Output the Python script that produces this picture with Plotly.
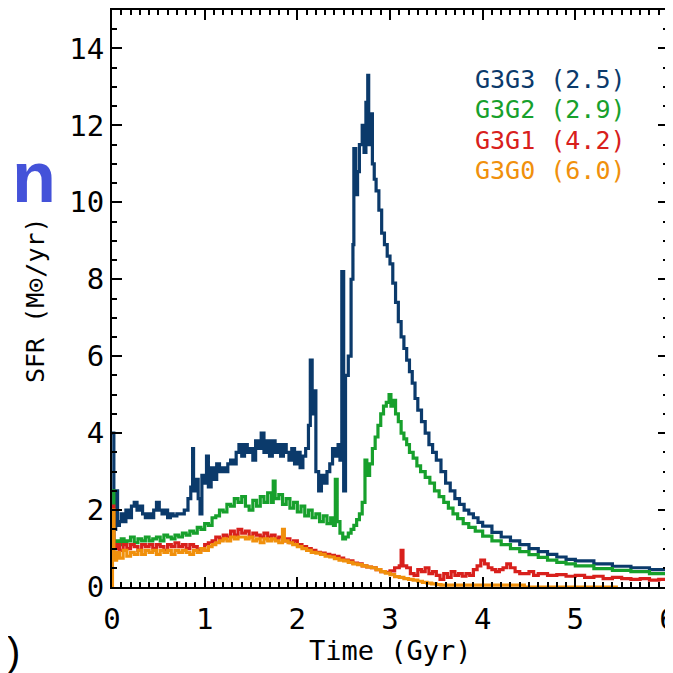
import plotly.graph_objects as go

# ---------------- data ----------------
t_g3g3 = [0.00, 0.02, 0.04, 0.06, 0.08, 0.10, 0.12, 0.15, 0.18, 0.21, 0.24, 0.27, 0.30, 0.33, 0.36, 0.39,
          0.42, 0.45, 0.48, 0.51, 0.54, 0.57, 0.60, 0.63, 0.66, 0.70, 0.74, 0.78, 0.82, 0.85, 0.87, 0.88,
          0.91, 0.93, 0.95, 0.97, 1.00, 1.02, 1.04, 1.07, 1.10, 1.13, 1.16, 1.19, 1.22, 1.25, 1.28, 1.31,
          1.34, 1.37, 1.40, 1.43, 1.46, 1.49, 1.52, 1.55, 1.58, 1.61, 1.64, 1.67, 1.70, 1.73, 1.76, 1.79,
          1.82, 1.85, 1.88, 1.91, 1.94, 1.97, 2.00, 2.03, 2.06, 2.09, 2.12, 2.14, 2.16, 2.18, 2.20, 2.23,
          2.26, 2.29, 2.32, 2.35, 2.38, 2.41, 2.44, 2.46, 2.48, 2.50, 2.52, 2.55, 2.58, 2.60, 2.61, 2.63,
          2.65, 2.67, 2.70, 2.72, 2.74, 2.76, 2.77, 2.79, 2.81, 2.83, 2.85, 2.88, 2.91, 2.94, 2.97, 3.00,
          3.03, 3.06, 3.09, 3.12, 3.15, 3.18, 3.21, 3.24, 3.27, 3.30, 3.34, 3.38, 3.42, 3.46, 3.50, 3.55,
          3.60, 3.65, 3.70, 3.75, 3.80, 3.85, 3.90, 3.95, 4.00, 4.10, 4.20, 4.30, 4.40, 4.50, 4.60, 4.70,
          4.80, 4.90, 5.00, 5.20, 5.40, 5.60, 5.80, 6.00]
sfr_g3g3 = [4.0, 1.5, 2.5, 1.6, 1.7, 1.9, 1.7, 2.0, 1.8, 2.1, 2.2, 2.0, 2.1, 1.9, 1.8, 1.9,
            1.8, 2.0, 2.2, 2.0, 1.9, 2.0, 1.8, 1.9, 1.85, 1.9, 1.9, 2.0, 2.3, 2.6, 3.6, 2.5,
            2.8, 2.3, 1.9, 2.9, 2.7, 3.4, 2.6, 3.1, 2.8, 3.2, 3.0, 3.1, 3.0, 3.2, 3.3, 3.2,
            3.5, 3.7, 3.4, 3.7, 3.5, 3.6, 3.3, 3.8, 3.6, 4.0, 3.5, 3.8, 3.4, 3.8, 3.5, 3.7,
            3.4, 3.7, 3.5, 3.3, 3.6, 3.2, 3.5, 3.1, 3.4, 3.6, 4.2, 5.9, 4.5, 5.1, 3.0, 2.5,
            2.9, 2.7, 3.0, 3.2, 3.6, 3.4, 3.7, 3.3, 8.2, 2.5, 5.5, 6.0, 8.0, 8.9, 11.4, 10.2,
            10.8, 11.5, 12.0, 11.3, 12.6, 13.3, 11.5, 12.3, 11.0, 10.6, 10.3, 9.8, 9.2, 8.9, 8.6, 8.4,
            7.9, 7.4, 6.9, 6.5, 6.2, 5.9, 5.6, 5.3, 4.9, 4.6, 4.3, 4.0, 3.7, 3.5, 3.3, 3.0,
            2.7, 2.5, 2.3, 2.15, 2.0, 1.9, 1.8, 1.68, 1.58, 1.42, 1.3, 1.2, 1.1, 1.0, 0.92, 0.85,
            0.78, 0.72, 0.68, 0.6, 0.54, 0.5, 0.45, 0.42]

t_g3g2 = [0.00, 0.02, 0.04, 0.07, 0.10, 0.13, 0.16, 0.20, 0.24, 0.28, 0.32, 0.36, 0.40, 0.44, 0.48, 0.52,
          0.56, 0.60, 0.64, 0.68, 0.72, 0.76, 0.80, 0.84, 0.88, 0.92, 0.96, 1.00, 1.04, 1.08, 1.12, 1.16,
          1.20, 1.24, 1.28, 1.32, 1.36, 1.40, 1.44, 1.48, 1.52, 1.56, 1.60, 1.64, 1.68, 1.72, 1.74, 1.76,
          1.80, 1.84, 1.88, 1.92, 1.96, 2.00, 2.04, 2.08, 2.12, 2.16, 2.20, 2.24, 2.28, 2.32, 2.36, 2.39,
          2.41, 2.43, 2.46, 2.49, 2.52, 2.55, 2.58, 2.61, 2.64, 2.67, 2.70, 2.73, 2.75, 2.78, 2.81, 2.84,
          2.87, 2.90, 2.93, 2.96, 2.99, 3.01, 3.03, 3.06, 3.09, 3.12, 3.15, 3.18, 3.21, 3.25, 3.29, 3.33,
          3.38, 3.43, 3.48, 3.53, 3.58, 3.63, 3.68, 3.73, 3.79, 3.85, 3.92, 4.00, 4.10, 4.20, 4.30, 4.40,
          4.50, 4.60, 4.70, 4.80, 4.90, 5.00, 5.20, 5.40, 5.60, 5.80, 6.00]
sfr_g3g2 = [2.5, 1.0, 1.2, 1.1, 1.25, 1.15, 1.2, 1.3, 1.15, 1.25, 1.2, 1.3, 1.2, 1.25, 1.3, 1.2,
            1.35, 1.3, 1.25, 1.35, 1.3, 1.4, 1.35, 1.45, 1.4, 1.55, 1.5, 1.65, 1.6, 1.8, 1.85, 2.0,
            1.95, 2.15, 2.1, 2.3, 2.2, 2.35, 2.1, 2.0, 2.25, 2.1, 2.35, 2.2, 2.45, 2.2, 2.75, 2.3,
            2.4, 2.15, 2.3, 2.05, 2.2, 1.95, 2.1, 1.85, 2.0, 1.8, 1.9, 1.7, 1.85, 1.65, 1.8, 1.6,
            2.8, 1.7, 1.4, 1.25, 1.3, 1.4, 1.5, 1.6, 1.75, 1.9, 2.2, 3.3, 2.9, 3.2, 3.6, 3.9,
            4.2, 4.5, 4.7, 4.8, 5.0, 4.7, 4.85, 4.5, 4.3, 4.0, 3.85, 3.7, 3.5, 3.35, 3.15, 3.0,
            2.85, 2.7, 2.5, 2.35, 2.2, 2.05, 1.9, 1.78, 1.65, 1.55, 1.45, 1.32, 1.2, 1.1, 1.0, 0.92,
            0.84, 0.77, 0.7, 0.64, 0.6, 0.55, 0.48, 0.43, 0.4, 0.35, 0.3]

t_g3g1 = [0.00, 0.02, 0.05, 0.08, 0.12, 0.16, 0.20, 0.24, 0.28, 0.32, 0.36, 0.40, 0.44, 0.48, 0.52, 0.56,
          0.60, 0.64, 0.68, 0.72, 0.76, 0.80, 0.84, 0.88, 0.92, 0.96, 1.00, 1.04, 1.08, 1.12, 1.16, 1.20,
          1.24, 1.28, 1.32, 1.36, 1.40, 1.44, 1.48, 1.52, 1.56, 1.60, 1.64, 1.68, 1.72, 1.76, 1.80, 1.84,
          1.88, 1.92, 1.96, 2.00, 2.05, 2.10, 2.15, 2.20, 2.25, 2.30, 2.35, 2.40, 2.45, 2.50, 2.55, 2.60,
          2.65, 2.70, 2.75, 2.80, 2.85, 2.90, 2.95, 3.00, 3.05, 3.10, 3.12, 3.14, 3.18, 3.22, 3.26, 3.30,
          3.34, 3.38, 3.42, 3.46, 3.50, 3.54, 3.58, 3.62, 3.66, 3.70, 3.74, 3.78, 3.82, 3.86, 3.90, 3.94,
          3.98, 4.02, 4.06, 4.10, 4.14, 4.18, 4.22, 4.26, 4.30, 4.35, 4.40, 4.45, 4.50, 4.55, 4.60, 4.70,
          4.80, 4.90, 5.00, 5.10, 5.20, 5.30, 5.40, 5.50, 5.60, 5.70, 5.80, 5.90, 6.00]
sfr_g3g1 = [2.1, 1.0, 1.1, 0.95, 1.1, 1.0, 1.1, 1.05, 0.95, 1.1, 1.05, 1.1, 1.0, 1.1, 1.05, 0.95,
            1.1, 1.05, 1.15, 1.05, 1.1, 1.0, 1.1, 1.05, 0.95, 1.0, 1.1, 1.15, 1.2, 1.3, 1.25, 1.35,
            1.3, 1.45, 1.35, 1.5, 1.4, 1.45, 1.3, 1.4, 1.35, 1.3, 1.4, 1.3, 1.35, 1.25, 1.3, 1.2,
            1.25, 1.15, 1.2, 1.1, 1.05, 1.0, 0.95, 0.9, 0.88, 0.85, 0.82, 0.8, 0.75, 0.7, 0.68, 0.62,
            0.6, 0.55, 0.52, 0.5, 0.45, 0.4, 0.38, 0.42, 0.5, 0.55, 0.95, 0.55, 0.5, 0.35, 0.3, 0.45,
            0.4, 0.5, 0.35, 0.4, 0.3, 0.2, 0.35, 0.25, 0.4, 0.3, 0.35, 0.28, 0.35, 0.3, 0.45, 0.55,
            0.7, 0.6, 0.5, 0.45, 0.4, 0.45, 0.5, 0.6, 0.5, 0.4, 0.35, 0.35, 0.4, 0.3, 0.35, 0.3,
            0.32, 0.28, 0.3, 0.25, 0.28, 0.22, 0.25, 0.22, 0.2, 0.22, 0.18, 0.2, 0.15]

t_g3g0 = [0.00, 0.005, 0.02, 0.05, 0.08, 0.12, 0.16, 0.20, 0.24, 0.28, 0.32, 0.36, 0.40, 0.44, 0.48, 0.52,
          0.56, 0.60, 0.64, 0.68, 0.72, 0.76, 0.80, 0.84, 0.88, 0.92, 0.96, 1.00, 1.04, 1.08, 1.12, 1.16,
          1.20, 1.24, 1.28, 1.32, 1.36, 1.40, 1.44, 1.48, 1.52, 1.56, 1.60, 1.64, 1.68, 1.72, 1.76, 1.80,
          1.84, 1.86, 1.90, 1.95, 2.00, 2.05, 2.10, 2.15, 2.20, 2.25, 2.30, 2.35, 2.40, 2.45, 2.50, 2.55,
          2.60, 2.65, 2.70, 2.75, 2.80, 2.85, 2.90, 2.95, 3.00, 3.05, 3.10, 3.15, 3.20, 3.25, 3.30, 3.35,
          3.40, 3.45, 3.50, 3.55, 3.60, 3.70, 3.80, 4.00, 4.20, 4.40, 4.45, 5.00, 5.46]
sfr_g3g0 = [0.0, 2.0, 0.7, 0.9, 0.75, 0.95, 0.8, 0.9, 0.85, 0.95, 0.85, 0.95, 0.9, 0.95, 0.85, 0.95,
            0.9, 0.95, 0.85, 0.95, 0.9, 0.95, 0.9, 0.85, 0.95, 0.9, 1.0, 0.95, 1.05, 1.1, 1.15, 1.2,
            1.25, 1.2, 1.3, 1.25, 1.3, 1.3, 1.25, 1.3, 1.2, 1.25, 1.15, 1.25, 1.2, 1.25, 1.2, 1.15,
            1.5, 1.2, 1.15, 1.1, 1.05, 1.0, 0.95, 0.9, 0.88, 0.85, 0.8, 0.78, 0.74, 0.7, 0.68, 0.64,
            0.6, 0.58, 0.55, 0.52, 0.5, 0.45, 0.4, 0.36, 0.32, 0.27, 0.25, 0.22, 0.2, 0.18, 0.15, 0.12,
            0.1, 0.08, 0.06, 0.05, 0.05, 0.05, 0.05, 0.05, 0.05, 0.05, 0.0, 0.0, 0.0]

series_names = ["G3G3 (2.5)", "G3G2 (2.9)", "G3G1 (4.2)", "G3G0 (6.0)"]
series_colors = ["#0b3a6b", "#17a02c", "#d8201c", "#f0900c"]

x_ticks = [0, 1, 2, 3, 4, 5, 6]
y_ticks = [0, 2, 4, 6, 8, 10, 12, 14]

# ---------------- figure ----------------
# the page body has an 8 px default margin, so the figure is 665 px and sits at (8, 8)
OFF = 8
W, H = 665, 665
L, R, T, B = 104, 5, 2, 86
PW, PH = W - L - R, H - T - B


def sx(p):  # screen x pixel -> paper x
    return (p - OFF - L) / PW


def sy(q):  # screen y pixel -> paper y
    return (H - B - (q - OFF)) / PH


fig = go.Figure()
all_t = [t_g3g3, t_g3g2, t_g3g1, t_g3g0]
all_v = [sfr_g3g3, sfr_g3g2, sfr_g3g1, sfr_g3g0]
for name, col, tt, vv in zip(series_names, series_colors, all_t, all_v):
    fig.add_trace(go.Scatter(x=tt, y=vv, mode="lines", name=name,
                             line=dict(color=col, width=3.2, shape="hv"),
                             showlegend=False))

tickfont = dict(family="DejaVu Sans Mono, monospace", size=29, color="black")
axis_common = dict(showline=True, linecolor="black", linewidth=2, mirror="ticks",
                   ticks="inside", ticklen=10, tickwidth=2, tickcolor="black",
                   showgrid=False, zeroline=False, tickfont=tickfont,
                   automargin=False, ticklabeloverflow="allow")

fig.update_xaxes(range=[0, 6], tickvals=x_ticks, ticktext=[str(v) for v in x_ticks],
                 minor=dict(dtick=0.1, ticks="inside", ticklen=5, tickwidth=1.5, tickcolor="black",
                            showgrid=False),
                 ticklabelstandoff=5, **axis_common)
fig.update_yaxes(range=[0, 15], tickvals=y_ticks, ticktext=[str(v) for v in y_ticks],
                 minor=dict(dtick=0.5, ticks="inside", ticklen=5, tickwidth=1.5, tickcolor="black",
                            showgrid=False),
                 ticklabelstandoff=0, **axis_common)

annots = []
# axis titles
annots.append(dict(text="Time (Gyr)", x=sx(390), y=sy(650), xref="paper", yref="paper",
                   xanchor="center", yanchor="middle", showarrow=False,
                   font=dict(family="DejaVu Sans Mono, monospace", size=27, color="black")))
annots.append(dict(text="SFR (M⊙/yr)", x=sx(35), y=sy(300), xref="paper", yref="paper",
                   xanchor="center", yanchor="middle", showarrow=False, textangle=-90,
                   font=dict(family="DejaVu Sans Mono, monospace", size=25, color="black")))
# legend text
legend_y = [79, 110, 140, 170]
for name, col, yy in zip(series_names, series_colors, legend_y):
    annots.append(dict(text=name, x=sx(473), y=sy(yy), xref="paper", yref="paper",
                       xanchor="left", yanchor="middle", showarrow=False,
                       font=dict(family="DejaVu Sans Mono, monospace", size=25, color=col)))
# cut-off slide text at left
annots.append(dict(text="<b>in</b>", x=sx(58), y=sy(177), xref="paper", yref="paper",
                   xanchor="right", yanchor="middle", showarrow=False,
                   font=dict(family="Liberation Sans, Arial", size=72, color="#4452d9")))
annots.append(dict(text=")", x=sx(13), y=sy(652), xref="paper", yref="paper",
                   xanchor="center", yanchor="middle", showarrow=False,
                   font=dict(family="Liberation Sans, Arial", size=40, color="black")))

fig.update_layout(width=W, height=H, margin=dict(l=L, r=R, t=T, b=B),
                  paper_bgcolor="white", plot_bgcolor="white", annotations=annots,
                  showlegend=False)

fig.write_html("out.html")
